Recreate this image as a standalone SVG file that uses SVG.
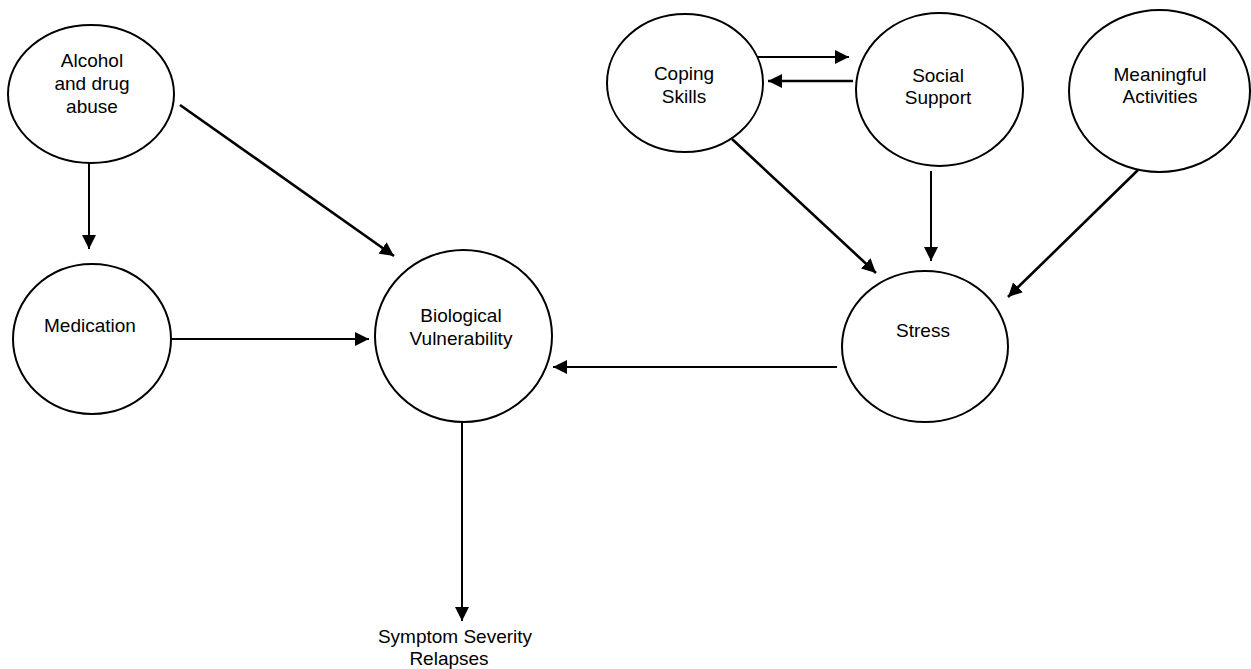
<svg xmlns="http://www.w3.org/2000/svg" width="1251" height="669" viewBox="0 0 1251 669">
<style>
  .node { fill: #ffffff; stroke: #000000; stroke-width: 2; }
  .lbl { font-family: "Liberation Sans", Arial, sans-serif; font-size: 19px; fill: #000000; text-anchor: middle; }
  .edge { stroke: #000000; stroke-width: 2; fill: none; marker-end: url(#arrow); }
  .thick { stroke-width: 2.6; }
</style>
<defs>
  <marker id="arrow" viewBox="0 0 14 14" refX="14" refY="7" markerWidth="14" markerHeight="14" markerUnits="userSpaceOnUse" orient="auto">
    <path d="M0,0 L14,7 L0,14 z" fill="#000000"/>
  </marker>
</defs>
<rect width="1251" height="669" fill="#ffffff"/>
<g id="connectors">
  <path class="edge" d="M89,163 L89,249"/>
  <path class="edge thick" d="M180,105 L394,256"/>
  <path class="edge" d="M171,339 L369,339"/>
  <path class="edge" d="M837,367 L553,367"/>
  <path class="edge" d="M462,422 L462,621"/>
  <path class="edge" d="M757,57 L849,57"/>
  <path class="edge thick" d="M853,81 L768,81"/>
  <path class="edge thick" d="M732,139 L876,273"/>
  <path class="edge" d="M931,171 L931,261"/>
  <path class="edge thick" d="M1138,170 L1008,297"/>
</g>
<g id="alcohol">
  <ellipse class="node" cx="91" cy="94" rx="83" ry="69"/>
  <text class="lbl" x="92" y="67">Alcohol</text>
  <text class="lbl" x="92" y="90">and drug</text>
  <text class="lbl" x="92" y="113">abuse</text>
</g>
<g id="medication">
  <ellipse class="node" cx="92" cy="339" rx="79" ry="75"/>
  <text class="lbl" x="90" y="332">Medication</text>
</g>
<g id="biological">
  <ellipse class="node" cx="463.5" cy="336" rx="88.5" ry="86"/>
  <text class="lbl" x="461" y="322">Biological</text>
  <text class="lbl" x="461" y="345">Vulnerability</text>
</g>
<g id="coping">
  <ellipse class="node" cx="685" cy="83" rx="78" ry="69"/>
  <text class="lbl" x="684" y="80">Coping</text>
  <text class="lbl" x="684" y="103">Skills</text>
</g>
<g id="social">
  <ellipse class="node" cx="939.5" cy="89.5" rx="83.5" ry="76.5"/>
  <text class="lbl" x="938" y="82">Social</text>
  <text class="lbl" x="938" y="104">Support</text>
</g>
<g id="meaningful">
  <ellipse class="node" cx="1159.5" cy="91" rx="90.5" ry="81"/>
  <text class="lbl" x="1160" y="81">Meaningful</text>
  <text class="lbl" x="1160" y="103">Activities</text>
</g>
<g id="stress">
  <ellipse class="node" cx="925" cy="346.5" rx="83" ry="75.5"/>
  <text class="lbl" x="923" y="337">Stress</text>
</g>
<g id="symptom">
  <text class="lbl" x="455" y="643">Symptom Severity</text>
  <text class="lbl" x="449" y="665">Relapses</text>
</g>
</svg>
